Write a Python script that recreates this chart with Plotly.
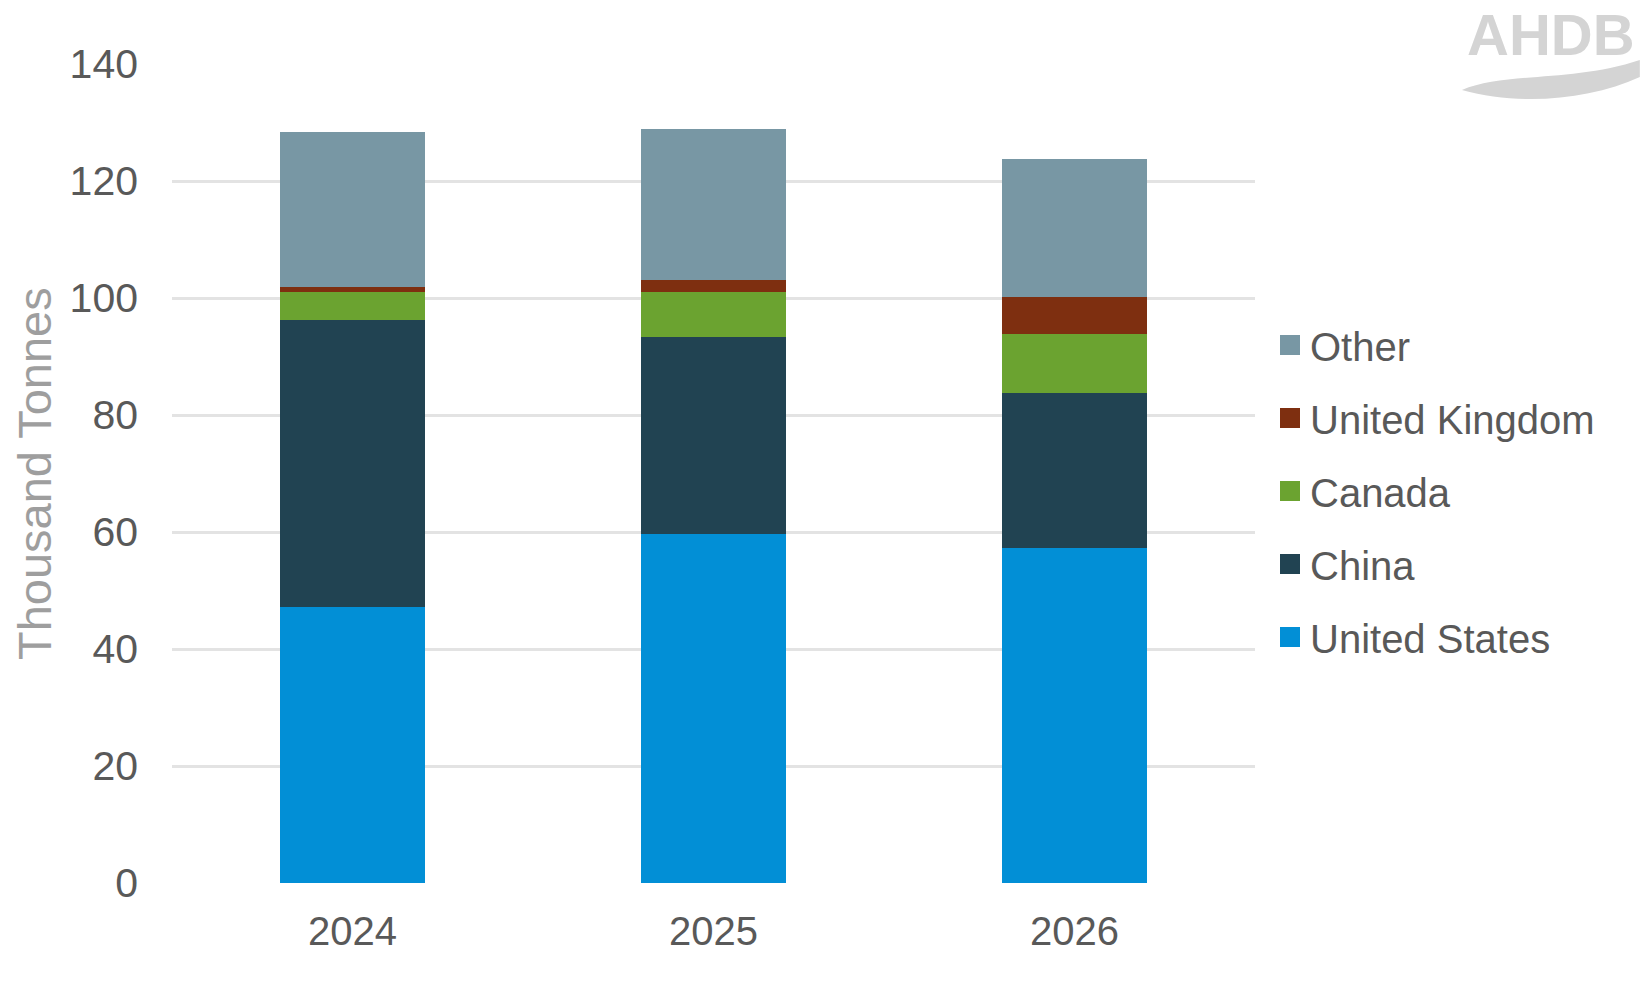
import plotly.graph_objects as go

years = ["2024", "2025", "2026"]
united_states = [47.1, 59.7, 57.2]
china = [49.1, 33.6, 26.6]
canada = [4.8, 7.7, 10.0]
united_kingdom = [0.9, 2.1, 6.4]
other = [26.5, 25.8, 23.6]

series_names = ["United States", "China", "Canada", "United Kingdom", "Other"]
series_values = [united_states, china, canada, united_kingdom, other]
series_colors = ["#028FD6", "#214352", "#6BA330", "#7E2F10", "#7897A4"]

W, H = 1650, 990
L, R, T, B = 171.5, 1255, 64, 883


def px(x):
    return (x - L) / (R - L)


def py(y):
    return (B - y) / (B - T)


fig = go.Figure()
for name, vals, col in zip(series_names, series_values, series_colors):
    fig.add_trace(go.Bar(x=years, y=vals, name=name, marker=dict(color=col, line=dict(width=0)),
                         width=0.4, showlegend=False))
# legend entries (top to bottom: Other ... United States)
for name, col in zip(series_names[::-1], series_colors[::-1]):
    fig.add_trace(go.Scatter(x=[None], y=[None], mode="markers", name=name, legendgroup=name,
                             marker=dict(symbol="square", size=16, color=col,
                                         line=dict(color=col, width=4))))

fig.update_layout(
    barmode="stack",
    width=W, height=H,
    margin=dict(l=L, r=W - R, t=T, b=H - B, autoexpand=False),
    paper_bgcolor="white", plot_bgcolor="white",
    font=dict(family="Liberation Sans, Arial, sans-serif", color="#595959", size=40),
    legend=dict(x=px(1270), y=py(312.5), xanchor="left", yanchor="top",
                traceorder="grouped", tracegroupgap=18,
                font=dict(size=40, color="#595959"), bgcolor="rgba(0,0,0,0)"),
    showlegend=True,
)
fig.update_xaxes(showgrid=False, showline=False, ticks="", ticklabelstandoff=21,
                 tickfont=dict(size=40, color="#595959"))
fig.update_yaxes(range=[0, 140], dtick=20, showgrid=True, gridcolor="#E3E3E3", gridwidth=3,
                 zeroline=False, showline=False, ticks="", ticklabelstandoff=33,
                 tickfont=dict(size=41, color="#595959"))

fig.add_annotation(text="Thousand Tonnes", xref="paper", yref="paper", x=px(34), y=0.5,
                   textangle=-90, showarrow=False, xanchor="center", yanchor="middle",
                   font=dict(family="Liberation Sans, Arial, sans-serif",
                             size=47, color="#9E9E9E"))

# AHDB logo
fig.add_annotation(text="<b>AHDB</b>", xref="paper", yref="paper", x=px(1551), y=py(35),
                   showarrow=False, xanchor="center", yanchor="middle",
                   font=dict(family="Liberation Sans, Arial, sans-serif", size=58, color="#D4D4D4"))


def pt(x, y):
    return f"{px(x):.5f},{py(y):.5f}"


swoosh = ("M " + pt(1462, 90) + " C " + pt(1505, 72) + " " + pt(1575, 82) + " " + pt(1640, 60)
          + " L " + pt(1640, 77) + " C " + pt(1590, 100) + " " + pt(1520, 106) + " " + pt(1462, 90) + " Z")
fig.add_shape(type="path", path=swoosh, xref="paper", yref="paper",
              fillcolor="#D4D4D4", line=dict(width=0), layer="above")

fig.write_html("out.html")
